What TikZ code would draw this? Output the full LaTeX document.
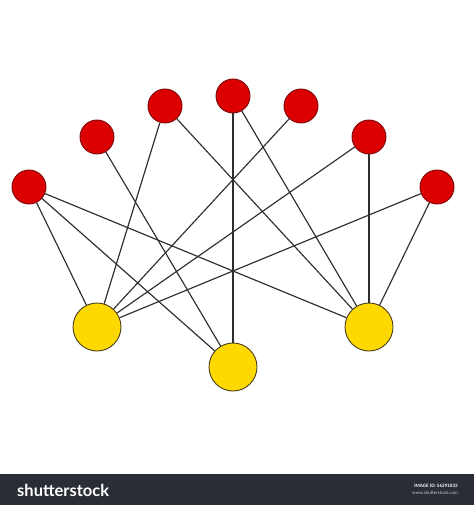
\documentclass[tikz,border=0pt]{standalone}
\usepackage{fontspec}
\setmainfont{Lato}
\definecolor{redfill}{HTML}{DD0000}
\definecolor{redline}{HTML}{7A0A0A}
\definecolor{yelfill}{HTML}{FFD800}
\definecolor{yelline}{HTML}{4A4020}
\definecolor{edgecol}{HTML}{2E2E2E}
\definecolor{barcol}{HTML}{2A2D36}
\tikzset{
  rednode/.style={circle,fill=redfill,draw=redline,line width=0.9pt,minimum size=34pt,inner sep=0pt},
  yelnode/.style={circle,fill=yelfill,draw=yelline,line width=0.9pt,minimum size=48pt,inner sep=0pt},
  edge/.style={draw=edgecol,line width=1.15pt}
}
\begin{document}
\begin{tikzpicture}[x=1pt,y=-1pt]
\useasboundingbox (0,0) rectangle (474,505);
\fill[white] (0,0) rectangle (474,505);
% nodes
\node[rednode] (r1) at (29,187) {};
\node[rednode] (r2) at (97,137) {};
\node[rednode] (r3) at (165,106) {};
\node[rednode] (r4) at (233,96) {};
\node[rednode] (r5) at (301,106) {};
\node[rednode] (r6) at (369,137) {};
\node[rednode] (r7) at (437,187) {};
\node[yelnode] (y1) at (97,327) {};
\node[yelnode] (y2) at (233,367) {};
\node[yelnode] (y3) at (369,327) {};
% edges
\path[edge] (r1) -- (y1);
\path[edge] (r1) -- (y2);
\path[edge] (r1) -- (y3);
\path[edge] (r2) -- (y2);
\path[edge] (r3) -- (y1);
\path[edge] (r3) -- (y3);
\path[edge] (r4) -- (y2);
\path[edge] (r4) -- (y3);
\path[edge] (r5) -- (y1);
\path[edge] (r6) -- (y1);
\path[edge] (r6) -- (y3);
\path[edge] (r7) -- (y1);
\path[edge] (r7) -- (y3);
% bottom bar
\fill[barcol] (0,474) rectangle (474,505);
\node[anchor=west,text=white,font=\fontsize{16.5}{17}\selectfont\bfseries,inner sep=0pt] (logo) at (17,490) {shutterstock};
\node[anchor=north east,text=white,font=\fontsize{4.5}{5}\selectfont\bfseries,inner sep=0pt] (imgid) at (458,484) {IMAGE ID: 56291833};
\node[anchor=north east,text=white!80!black,font=\fontsize{4.5}{5}\selectfont,inner sep=0pt] (www) at (458,491) {www.shutterstock.com};
\end{tikzpicture}
\end{document}
